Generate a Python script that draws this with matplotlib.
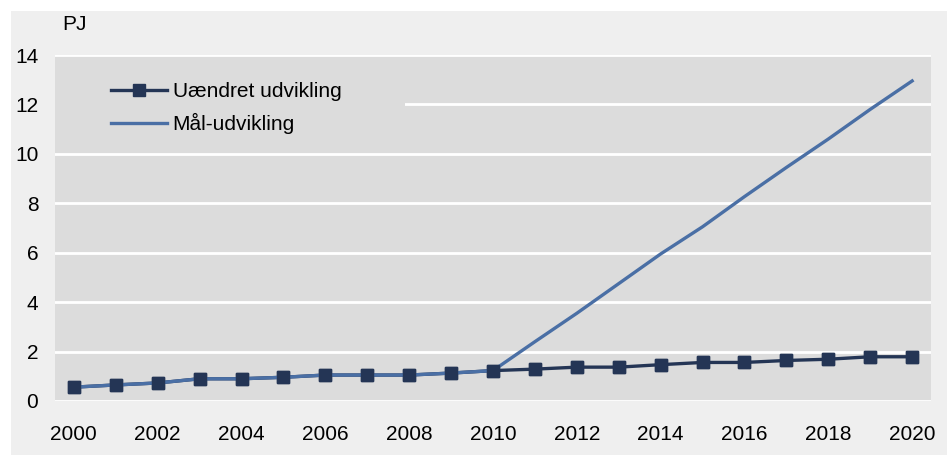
import matplotlib
matplotlib.use("Agg")
import matplotlib.pyplot as plt
from matplotlib.patches import Rectangle

# Data (PJ)
years = list(range(2000, 2021))
uaendret = [0.56, 0.65, 0.73, 0.90, 0.90, 0.96, 1.05, 1.05, 1.05, 1.13, 1.23,
            1.29, 1.37, 1.37, 1.47, 1.56, 1.56, 1.64, 1.69, 1.79, 1.79]
maal = [0.56, 0.65, 0.73, 0.90, 0.90, 0.96, 1.05, 1.05, 1.05, 1.13, 1.23,
        2.40, 3.55, 4.75, 5.95, 7.05, 8.27, 9.45, 10.60, 11.80, 12.95]
yticks = [0, 2, 4, 6, 8, 10, 12, 14]
xticks = list(range(2000, 2021, 2))

dark = "#243555"
blue = "#4a6fa5"
fs = 15

plt.rcParams["font.family"] = ["Liberation Sans", "DejaVu Sans"]

fig = plt.figure(figsize=(9.47, 4.55), dpi=100, facecolor="white")
# light grey panel behind the chart
fig.patches.append(Rectangle((11 / 947, 0), 1, 1 - 11 / 455, transform=fig.transFigure,
                             facecolor="#efefef", edgecolor="none", zorder=-10))

ax = fig.add_axes([55 / 947, 54 / 455, 876 / 947, 346 / 455])
ax.set_facecolor("#dcdcdc")

ax.plot(years, uaendret, color=dark, lw=2.4, marker="s", ms=8,
        label="Uændret udvikling", zorder=2)
ax.plot(years, maal, color=blue, lw=2.4, label="Mål-udvikling", zorder=3)
ax.plot(years, uaendret, color=dark, lw=0, marker="s", ms=8, zorder=4)

ax.set_xlim(1999.55, 2020.45)
ax.set_ylim(0, 14)
ax.set_yticks(yticks)
ax.set_xticks(xticks)
ax.yaxis.grid(True, color="white", lw=2)
ax.set_axisbelow(True)
for s in ax.spines.values():
    s.set_visible(False)
ax.tick_params(axis="y", length=0, pad=12, labelsize=fs)
ax.tick_params(axis="x", length=0, pad=17, labelsize=fs)

ax.text(0.008, 1.087, "PJ", transform=ax.transAxes, fontsize=fs, ha="left", va="center")

# legend background block hides the gridline behind it
ax.add_patch(Rectangle((0, 0.74), 0.4, 0.23, transform=ax.transAxes,
                       facecolor="#dcdcdc", edgecolor="none", zorder=1))
ax.legend(loc="upper left", bbox_to_anchor=(0.064, 0.922), fontsize=fs,
          frameon=False, handlelength=2.7, handletextpad=0.25, labelspacing=0.58,
          borderpad=0, borderaxespad=0)

fig.savefig("out.png", dpi=100, facecolor=fig.get_facecolor())
